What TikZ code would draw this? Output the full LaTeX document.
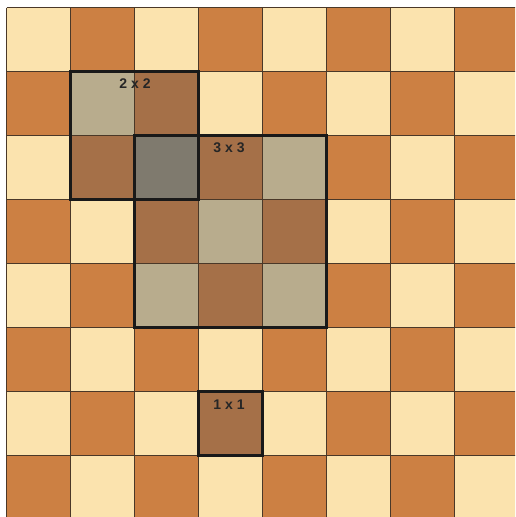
\documentclass[tikz,border=0pt]{standalone}
\usepackage{fontspec}
\setmainfont{Liberation Sans}
\definecolor{lightsq}{HTML}{FBE3AE}
\definecolor{darksq}{HTML}{CC8043}
\definecolor{lightov}{HTML}{B8AC8D}
\definecolor{darkov}{HTML}{A57048}
\definecolor{doubleov}{HTML}{7F7A6E}
\definecolor{gridline}{HTML}{4A3828}
\begin{document}
\begin{tikzpicture}[x=1pt,y=-1pt,
  gridln/.style={draw=gridline,line width=0.8pt},
  selbox/.style={draw=black!90,line width=2.2pt},
  lbl/.style={font=\bfseries\fontsize{14}{14}\selectfont,text=black!85,inner sep=0pt}]
\useasboundingbox (0,0) rectangle (515,517);
\fill[white] (0,0) rectangle (515,517);
\begin{scope}
\clip (0,0) rectangle (515,517);
\foreach \r in {0,...,7}{
  \foreach \c in {0,...,7}{
    \pgfmathtruncatemacro\p{mod(\r+\c,2)}
    \ifnum\p=0 \def\sq{lightsq}\else\def\sq{darksq}\fi
    \fill[\sq] (6.5+64*\c,7.5+64*\r) rectangle ++(64,64);
  }
}
% overlays
\foreach \r/\c/\k in {1/1/lightov,1/2/darkov,2/1/darkov,2/2/doubleov,
  2/3/darkov,2/4/lightov,3/2/darkov,3/3/lightov,3/4/darkov,
  4/2/lightov,4/3/darkov,4/4/lightov,6/3/darkov}{
  \fill[\k] (6.5+64*\c,7.5+64*\r) rectangle ++(64,64);
}
\foreach \i in {0,...,8}{
  \draw[gridln] (6.5+64*\i,7.5) -- (6.5+64*\i,530);
  \draw[gridln] (6.5,7.5+64*\i) -- (530,7.5+64*\i);
}
\end{scope}
\draw[selbox] (70.5,71.5) rectangle (198.5,199.5);
\draw[selbox] (134.5,135.5) rectangle (326.5,327.5);
\draw[selbox] (198.5,391.5) rectangle (262.5,455.5);
\node[lbl] (l2) at (135,83.5) {2 x 2};
\node[lbl] (l3) at (229,147.5) {3 x 3};
\node[lbl] (l1) at (229,404.5) {1 x 1};
\end{tikzpicture}
\end{document}
